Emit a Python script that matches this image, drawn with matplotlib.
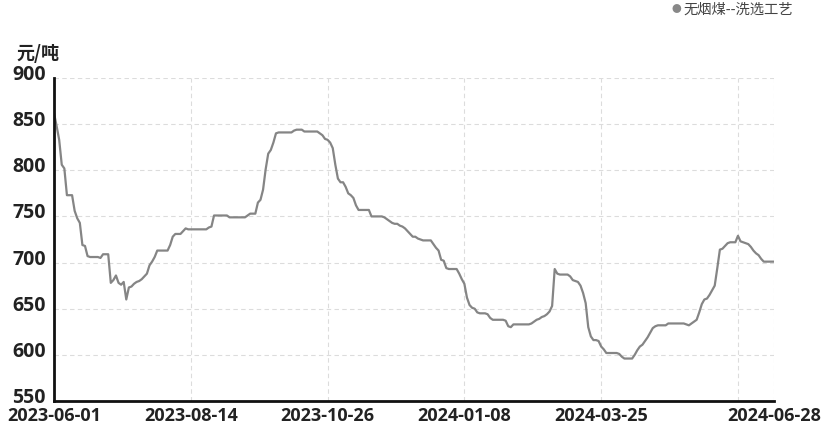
import matplotlib.pyplot as plt
import matplotlib.transforms as mtransforms
import numpy as np

plt.rcParams['font.family'] = ['Noto Sans CJK SC', 'DejaVu Sans']

# daily price, 元/吨
prices = [
    862, 848, 833, 806, 802, 773, 773, 773, 756, 748,
    743, 719, 718, 707, 706, 706, 706, 706, 705, 709,
    709, 709, 678, 681, 686, 678, 676, 679, 660, 673,
    674, 677, 679, 680, 682, 685, 688, 697, 701, 706,
    713, 713, 713, 713, 713, 719, 728, 731, 731, 731,
    734, 737, 736, 736, 736, 736, 736, 736, 736, 736,
    738, 739, 751, 751, 751, 751, 751, 751, 749, 749,
    749, 749, 749, 749, 749, 751, 753, 753, 753, 765,
    768, 779, 801, 818, 822, 830, 840, 841, 841, 841,
    841, 841, 841, 843, 844, 844, 844, 842, 842, 842,
    842, 842, 842, 840, 838, 834, 833, 830, 824, 806,
    791, 787, 787, 782, 775, 773, 770, 762, 757, 757,
    757, 757, 757, 750, 750, 750, 750, 750, 749, 747,
    745, 743, 742, 742, 740, 739, 737, 734, 731, 728,
    728, 726, 725, 724, 724, 724, 724, 720, 716, 713,
    703, 702, 694, 693, 693, 693, 693, 688, 682, 677,
    662, 654, 651, 650, 646, 645, 645, 645, 644, 640,
    638, 638, 638, 638, 638, 637, 631, 630, 633, 633,
    633, 633, 633, 633, 633, 634, 636, 638, 639, 641,
    642, 644, 647, 653, 693, 688, 687, 687, 687, 687,
    685, 681, 680, 679, 675, 667, 656, 630, 620, 616,
    616, 615, 609, 606, 602, 602, 602, 602, 602, 601,
    598, 596, 596, 596, 596, 600, 605, 609, 611, 615,
    619, 624, 629, 631, 632, 632, 632, 632, 634, 634,
    634, 634, 634, 634, 634, 633, 632, 634, 636, 638,
    646, 655, 660, 661, 665, 670, 675, 694, 714, 715,
    718, 721, 722, 722, 722, 729, 723, 722, 721, 720,
    717, 713, 710, 708, 704, 701, 701, 701, 701, 701,
]

tick_pos = [0, 53, 106, 159, 212, 265, 279]
tick_labels = ['2023-06-01', '2023-08-14', '2023-10-26', '2024-01-08',
               '2024-03-25', '', '2024-06-28']
y_ticks = [550, 600, 650, 700, 750, 800, 850, 900]
series_name = '无烟煤--洗选工艺'

fig = plt.figure(figsize=(8.31, 4.29), dpi=100)
ax = fig.add_axes([0.065, 0.0653, 0.8665, 0.7529])

x = np.arange(len(prices))
ax.plot(x, prices, color='#858585', lw=1.6, solid_joinstyle='round')

ax.set_xlim(0, len(prices) - 1)
ax.set_ylim(550, 900)
ax.set_yticks(y_ticks)
ax.set_yticklabels([str(v) for v in y_ticks], fontfamily='Open Sans', fontsize=14,
                   fontweight='bold', color='#222222')
ax.set_xticks(tick_pos)
ax.set_xticklabels(tick_labels, fontfamily='Open Sans', fontsize=13,
                   fontweight='bold', color='#222222')

ax.grid(True, color='#dcdcdc', ls=(0, (4, 3)), lw=0.8)
ax.set_axisbelow(True)
ax.tick_params(length=0)
ax.tick_params(axis='y', pad=6)
ax.tick_params(axis='x', pad=4)

# nudge y labels up a touch like the original
shift = mtransforms.ScaledTranslation(0, 4 / 72, fig.dpi_scale_trans)
for lab in ax.get_yticklabels():
    lab.set_transform(lab.get_transform() + shift)

for side in ['top', 'right']:
    ax.spines[side].set_visible(False)
for side in ['left', 'bottom']:
    ax.spines[side].set_color('#111111')
    ax.spines[side].set_linewidth(2)

fig.text(0.02, 0.876, '元/吨', fontsize=13, fontweight='bold', color='#222222', va='center')

# legend
fig.text(0.8135, 0.978, '●', fontsize=7, color='#888888', va='center', ha='center')
fig.text(0.822, 0.978, series_name, fontsize=10.3, color='#444444', va='center')

fig.savefig('out.png', dpi=100)
